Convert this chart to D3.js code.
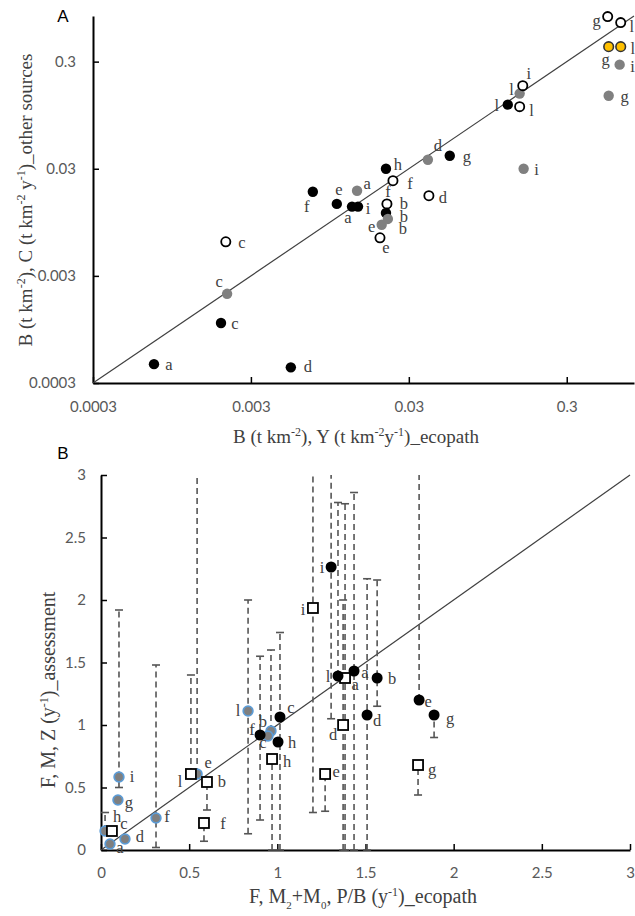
<!DOCTYPE html>
<html><head><meta charset="utf-8">
<script src="https://cdn.jsdelivr.net/npm/d3@7"></script>
<style>body{margin:0;background:#fff}svg{display:block}</style>
</head><body>
<svg id="chart" width="635" height="916"></svg>
<script>
// ---------- Panel A data (log–log) ----------
const aTicks = [0.0003, 0.003, 0.03, 0.3];
const aBlackCat = ["a","c","d","f","e","a","i","h","b","g","l"];
const aBlackX   = [0.00073,0.00194,0.00537,0.0074,0.0105,0.0131,0.0143,0.0215,0.0215,0.0545,0.127];
const aBlackY   = [0.00045,0.00109,0.00042,0.0183,0.0141,0.0133,0.0133,0.030,0.0116,0.0397,0.119];
const aGreyCat  = ["c","a","e","b","f","d","i","l","g","i"];
const aGreyX    = [0.00212,0.0141,0.0202,0.0221,0.0218,0.0396,0.160,0.151,0.553,0.649];
const aGreyY    = [0.00204,0.0187,0.0090,0.0102,0.0141,0.0364,0.030,0.151,0.144,0.281];
const aOpenCat  = ["c","e","b","f","d","l","i","g","l"];
const aOpenX    = [0.00208,0.0197,0.0218,0.0238,0.0402,0.151,0.158,0.545,0.659];
const aOpenY    = [0.00624,0.0068,0.0141,0.0232,0.0168,0.114,0.179,0.79,0.694];
const aOrangeCat = ["g","l"];
const aOrangeX   = [0.553,0.659];
const aOrangeY   = [0.414,0.414];

// ---------- Panel B data (linear) ----------
const bTicks = [0,0.5,1,1.5,2,2.5,3];
const bBlackCat = ["a","b","c","d","e","f","g","h","i","l"];
const bBlackX   = [1.435,1.566,1.015,1.509,1.804,0.902,1.889,1.004,1.305,1.344];
const bBlackY   = [1.432,1.376,1.064,1.08,1.20,0.92,1.08,0.864,2.264,1.392];
const bBlackLo  = [0,1.15,0,0,null,0.24,0.90,null,1.05,null];
const bBlackHi  = [2.86,2.16,1.74,2.17,3.6,1.55,null,null,3.6,2.78];
const bSqCat = ["a","b","c","d","e","f","g","h","i","l"];
const bSqX   = [1.384,0.601,0.062,1.373,1.271,0.584,1.798,0.97,1.202,0.51];
const bSqY   = [1.376,0.544,0.152,1.0,0.608,0.216,0.68,0.728,1.936,0.608];
const bSqLo  = [0,0.32,null,0,0.31,0.07,0.44,0,0.30,null];
const bSqHi  = [2.77,null,null,2.0,null,null,null,null,3.6,1.40];
const bGreyCat = ["a","b","c","d","e","f","g","h","i","l"];
const bGreyX   = [0.051,0.964,0.947,0.136,0.545,0.312,0.096,0.023,0.102,0.834];
const bGreyY   = [0.048,0.952,0.912,0.088,0.608,0.256,0.40,0.152,0.584,1.112];
const bGreyLo  = [null,null,null,null,null,0.02,null,null,0.50,0.13];
const bGreyHi  = [null,1.60,null,null,3.6,1.48,null,0.30,1.92,2.0];

// ---------- label placement (pixel offsets from mark) ----------
const aBlackLab = [[15,1],[14,1],[17,0],[-6,15],[2,-14],[-4,11],[10,2],[12,-4],[18,4],[17,1],[-11,1]];
const aGreyLab  = [[-8,-12],[10,-7],[-10,2],[15,10],[1,-12],[10,-14],[13,1],[-8,-4],[16,1],[13,2]];
const aOpenLab  = [[16,1],[6,10],[17,0],[17,3],[14,2],[12,4],[6,-12],[-11,4],[11,4]];
const aOrangeLab = [[-3,13],[12,2]];
const bBlackLab = [[11,2],[15,1],[11,-9],[10,6],[9,2],[-8,-5],[16,4],[14,1],[-9,1],[-10,1]];
const bSqLab    = [[10,7],[15,0],[12,-7],[-10,10],[11,-2],[19,1],[14,5],[15,3],[-10,2],[-11,8]];
const bGreyLab  = [[10,4],[-8,-9],[-5,7],[15,-2],[11,-11],[11,-1],[11,3],[12,-14],[13,0],[-10,0]];

const svg = d3.select("#chart");
const serif = "'Liberation Serif','Times New Roman',serif";
const sans = "Lato,'Liberation Sans',sans-serif";
const textCol = "#404040";

function zip(cat, xs, ys){ return cat.map((k,i)=>({k, x:xs[i], y:ys[i], i})); }

function styleAxis(g){
  g.select(".domain").attr("stroke","#000").attr("stroke-width",2);
  g.selectAll(".tick line").attr("stroke","#000").attr("stroke-width",1.5);
  g.selectAll(".tick text").attr("fill","#595959").style("font-family",sans).style("font-size","15px");
}

function drawLabels(g, data, sx, sy, offs){
  g.selectAll(null).data(data).join("text")
    .attr("x", d=>sx(d.x)+offs[d.i][0])
    .attr("y", d=>sy(d.y)+offs[d.i][1]+5)
    .attr("text-anchor","middle")
    .attr("fill", textCol)
    .style("font-family", serif).style("font-size","16.5px")
    .text(d=>d.k);
}

// ================= Panel A =================
const xA = d3.scaleLog().domain([0.0003,0.8]).range([93,634]);
const yA = d3.scaleLog().domain([0.0003,0.8]).range([383,16]);
const fmtA = d => String(d);
const gA = svg.append("g");

gA.append("g").attr("transform","translate(0,383)")
  .call(d3.axisBottom(xA).tickValues(aTicks).tickFormat(fmtA).tickSizeInner(-6).tickSizeOuter(0).tickPadding(18))
  .call(styleAxis);
gA.append("g").attr("transform","translate(93,0)")
  .call(d3.axisLeft(yA).tickValues(aTicks).tickFormat(fmtA).tickSizeInner(-6).tickSizeOuter(0).tickPadding(17))
  .call(styleAxis);

gA.append("line")
  .attr("x1",xA(0.0003)).attr("y1",yA(0.0003)).attr("x2",xA(0.8)).attr("y2",yA(0.8))
  .attr("stroke","#404040").attr("stroke-width",1.2);

const aBlack = zip(aBlackCat,aBlackX,aBlackY);
const aGrey = zip(aGreyCat,aGreyX,aGreyY);
const aOpen = zip(aOpenCat,aOpenX,aOpenY);
const aOrange = zip(aOrangeCat,aOrangeX,aOrangeY);

gA.selectAll(null).data(aBlack).join("circle")
  .attr("cx",d=>xA(d.x)).attr("cy",d=>yA(d.y)).attr("r",5.2).attr("fill","#000");
gA.selectAll(null).data(aGrey).join("circle")
  .attr("cx",d=>xA(d.x)).attr("cy",d=>yA(d.y)).attr("r",5.2).attr("fill","#808080");
gA.selectAll(null).data(aOpen).join("circle")
  .attr("cx",d=>xA(d.x)).attr("cy",d=>yA(d.y)).attr("r",4.6).attr("fill","#fff").attr("stroke","#000").attr("stroke-width",1.8);
gA.selectAll(null).data(aOrange).join("circle")
  .attr("cx",d=>xA(d.x)).attr("cy",d=>yA(d.y)).attr("r",4.8).attr("fill","#FFC000").attr("stroke","#333").attr("stroke-width",1.6);

drawLabels(gA, aBlack, xA, yA, aBlackLab);
drawLabels(gA, aGrey, xA, yA, aGreyLab);
drawLabels(gA, aOpen, xA, yA, aOpenLab);
drawLabels(gA, aOrange, xA, yA, aOrangeLab);

function supText(sel, parts){
  parts.forEach(p=>{
    const t = sel.append("tspan").text(p[0]);
    if(p[1]==="sup") t.attr("baseline-shift","super").style("font-size","12px");
    if(p[1]==="sub") t.attr("baseline-shift","sub").style("font-size","11px");
  });
}

const xTitleA = gA.append("text").attr("x",356).attr("y",443).attr("text-anchor","middle")
  .attr("fill",textCol).style("font-family",serif).style("font-size","19px");
supText(xTitleA, [["B (t km"],["-2","sup"],["), Y (t km"],["-2","sup"],["y"],["-1","sup"],[")_ecopath"]]);

const yTitleA = gA.append("text").attr("transform","translate(32,200) rotate(-90)").attr("text-anchor","middle")
  .attr("fill",textCol).style("font-family",serif).style("font-size","19px");
supText(yTitleA, [["B (t km"],["-2","sup"],["), C (t km"],["-2","sup"],[" y"],["-1","sup"],[")_other sources"]]);

gA.append("text").attr("x",63).attr("y",22).attr("text-anchor","middle").attr("fill","#000")
  .style("font-family","'Liberation Sans',Arial,sans-serif").style("font-size","17px").text("A");

// ================= Panel B =================
const xB = d3.scaleLinear().domain([0,3]).range([101,630]);
const yB = d3.scaleLinear().domain([0,3]).range([850,475]);
const gB = svg.append("g");

svg.append("clipPath").attr("id","clipB").append("rect")
  .attr("x",95).attr("y",475).attr("width",545).attr("height",380);

gB.append("g").attr("transform","translate(0,850)")
  .call(d3.axisBottom(xB).tickValues(bTicks).tickFormat(d=>String(d)).tickSizeInner(-6).tickSizeOuter(0).tickPadding(17))
  .call(styleAxis);
gB.append("g").attr("transform","translate(101,0)")
  .call(d3.axisLeft(yB).tickValues(bTicks).tickFormat(d=>String(d)).tickSizeInner(-6).tickSizeOuter(0).tickPadding(15))
  .call(styleAxis);

gB.append("line")
  .attr("x1",xB(0)).attr("y1",yB(0)).attr("x2",xB(3)).attr("y2",yB(3))
  .attr("stroke","#404040").attr("stroke-width",1.2);

function zipErr(cat,xs,ys,lo,hi){ return cat.map((k,i)=>({k,x:xs[i],y:ys[i],lo:lo[i],hi:hi[i],i})); }
const bBlack = zipErr(bBlackCat,bBlackX,bBlackY,bBlackLo,bBlackHi);
const bSq = zipErr(bSqCat,bSqX,bSqY,bSqLo,bSqHi);
const bGrey = zipErr(bGreyCat,bGreyX,bGreyY,bGreyLo,bGreyHi);

const errG = gB.append("g").attr("clip-path","url(#clipB)");
function drawErr(data){
  data.forEach(d=>{
    const lo = d.lo==null ? d.y : d.lo;
    const hi = d.hi==null ? d.y : d.hi;
    if(lo===hi) return;
    const cx = xB(d.x);
    errG.append("line").attr("x1",cx).attr("x2",cx).attr("y1",yB(lo)).attr("y2",yB(hi))
      .attr("stroke","#555").attr("stroke-width",1.6).attr("stroke-dasharray","6,4");
    if(d.lo!=null && d.lo<d.y)
      errG.append("line").attr("x1",cx-4).attr("x2",cx+4).attr("y1",yB(lo)).attr("y2",yB(lo))
        .attr("stroke","#555").attr("stroke-width",1.6);
    if(d.hi!=null && d.hi>d.y && d.hi<=3)
      errG.append("line").attr("x1",cx-4).attr("x2",cx+4).attr("y1",yB(hi)).attr("y2",yB(hi))
        .attr("stroke","#555").attr("stroke-width",1.6);
  });
}
drawErr(bGrey); drawErr(bSq); drawErr(bBlack);

gB.selectAll(null).data(bGrey).join("circle")
  .attr("cx",d=>xB(d.x)).attr("cy",d=>yB(d.y)).attr("r",4.8)
  .attr("fill","#7f7f7f").attr("stroke","#5b9bd5").attr("stroke-width",1.8);
gB.selectAll(null).data(bSq).join("rect")
  .attr("x",d=>xB(d.x)-5).attr("y",d=>yB(d.y)-5).attr("width",10).attr("height",10)
  .attr("fill","#fff").attr("stroke","#000").attr("stroke-width",1.8);
gB.selectAll(null).data(bBlack).join("circle")
  .attr("cx",d=>xB(d.x)).attr("cy",d=>yB(d.y)).attr("r",5.5).attr("fill","#000");

drawLabels(gB, bGrey, xB, yB, bGreyLab);
drawLabels(gB, bSq, xB, yB, bSqLab);
drawLabels(gB, bBlack, xB, yB, bBlackLab);

const xTitleB = gB.append("text").attr("x",363).attr("y",903).attr("text-anchor","middle")
  .attr("fill",textCol).style("font-family",serif).style("font-size","20px");
supText(xTitleB, [["F, M"],["2","sub"],["+M"],["0","sub"],[", P/B (y"],["-1","sup"],[")_ecopath"]]);

const yTitleB = gB.append("text").attr("transform","translate(55,690) rotate(-90)").attr("text-anchor","middle")
  .attr("fill",textCol).style("font-family",serif).style("font-size","20px");
supText(yTitleB, [["F, M, Z (y"],["-1","sup"],[")_assessment"]]);

gB.append("text").attr("x",63).attr("y",459).attr("text-anchor","middle").attr("fill","#000")
  .style("font-family","'Liberation Sans',Arial,sans-serif").style("font-size","17px").text("B");
</script>
</body></html>
